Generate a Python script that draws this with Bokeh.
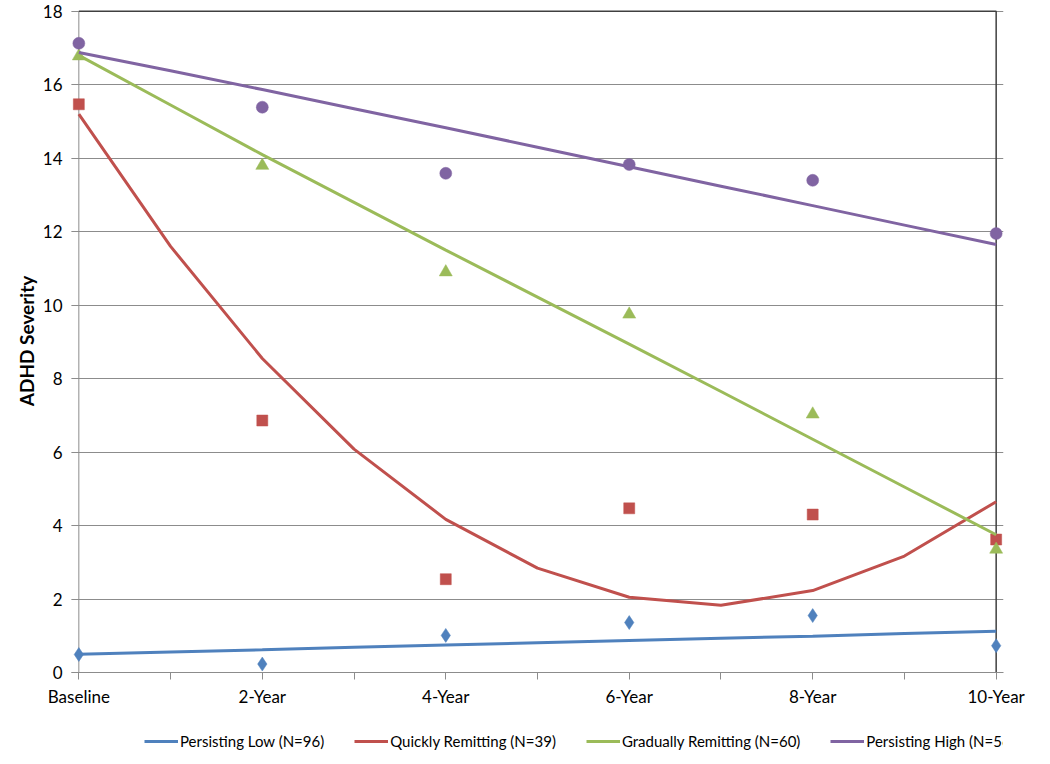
from bokeh.plotting import figure
from bokeh.models import (Range1d, FixedTicker, Legend, LegendItem)
from bokeh.layouts import column
from bokeh.embed import file_html
from bokeh.resources import INLINE

# ---- data ----
wave_labels = ["Baseline", "2-Year", "4-Year", "6-Year", "8-Year", "10-Year"]
wave_years = [0, 2, 4, 6, 8, 10]

series_names = ["Persisting Low (N=96)", "Quickly Remitting (N=39)",
                "Gradually Remitting (N=60)", "Persisting High (N=56)"]

# observed means
persisting_low = [0.49, 0.23, 1.01, 1.36, 1.55, 0.73]
quickly_remitting = [15.47, 6.86, 2.54, 4.47, 4.30, 3.62]
gradually_remitting = [16.78, 13.80, 10.90, 9.75, 7.03, 3.35]
persisting_high = [17.13, 15.39, 13.59, 13.83, 13.40, 11.95]

# fitted trajectories (read at each year)
fit_years = [0, 1, 2, 3, 4, 5, 6, 7, 8, 9, 10]
fit_low = [0.50, 0.56, 0.62, 0.69, 0.75, 0.81, 0.87, 0.93, 0.99, 1.06, 1.12]
fit_quick = [15.20, 11.60, 8.55, 6.08, 4.17, 2.84, 2.05, 1.83, 2.23, 3.17, 4.65]
fit_gradual = [16.80, 15.45, 14.10, 12.80, 11.50, 10.22, 8.94, 7.65, 6.35, 5.05, 3.75]
fit_high = [16.88, 16.38, 15.87, 15.35, 14.83, 14.30, 13.77, 13.24, 12.71, 12.18, 11.65]

y_ticks = [0, 2, 4, 6, 8, 10, 12, 14, 16, 18]

# ---- style ----
FONT = "Lato"
colors = ["#4F81BD", "#C0504D", "#9BBB59", "#8064A2"]
markers = ["diamond", "square", "triangle", "circle"]
msizes = [14, 11, 13, 12]
GRID = "#8c8c8c"

pad = 0.08
p = figure(frame_width=932, frame_height=663, output_backend="svg", toolbar_location=None,
           x_range=Range1d(wave_years[0] - pad, wave_years[-1] + pad),
           y_range=Range1d(y_ticks[0], y_ticks[-1] + 0.05),
           min_border_left=71, min_border_right=31, min_border_top=9,
           min_border_bottom=29)
p.outline_line_color = None
p.border_fill_color = "white"

# axes
p.xaxis.axis_label = None
p.xaxis.ticker = FixedTicker(ticks=fit_years)
p.xaxis.major_label_overrides = {y: (wave_labels[wave_years.index(y)] if y in wave_years else "")
                                 for y in fit_years}
p.xaxis.minor_tick_line_color = None
p.xaxis.major_tick_out = 7
p.xaxis.major_tick_in = 0
p.xaxis.axis_line_color = GRID
p.xaxis.major_tick_line_color = GRID
p.xaxis.major_label_text_font = FONT
p.xaxis.major_label_text_font_size = "17px"
p.xaxis.major_label_text_color = "#000000"
p.xaxis.major_label_standoff = 6

p.yaxis.ticker = FixedTicker(ticks=y_ticks)
p.yaxis.minor_tick_line_color = None
p.yaxis.major_tick_out = 0
p.yaxis.major_tick_in = 7
p.yaxis.axis_line_color = None
p.yaxis.major_tick_line_color = GRID
p.yaxis.major_label_text_font = FONT
p.yaxis.major_label_text_font_size = "17px"
p.yaxis.major_label_text_color = "#000000"
p.yaxis.major_label_standoff = 9
p.yaxis.axis_label = "ADHD Severity"
p.yaxis.axis_label_text_font = FONT
p.yaxis.axis_label_text_font_size = "19px"
p.yaxis.axis_label_text_font_style = "bold"
p.yaxis.axis_label_text_color = "#000000"
p.yaxis.axis_label_standoff = 2

p.xgrid.grid_line_color = None
p.ygrid.ticker = FixedTicker(ticks=y_ticks)
p.ygrid.grid_line_color = GRID
p.ygrid.grid_line_width = 1

# value axis line at Baseline, dark frame lines on top and right
p.line(x=[wave_years[0], wave_years[0]], y=[y_ticks[0], y_ticks[-1]],
       line_color=GRID, line_width=1)
p.line(x=[wave_years[0], wave_years[-1], wave_years[-1]],
       y=[y_ticks[-1], y_ticks[-1], y_ticks[0]],
       line_color="#404040", line_width=1.5)

obs = [persisting_low, quickly_remitting, gradually_remitting, persisting_high]
fits = [fit_low, fit_quick, fit_gradual, fit_high]

for name, col, mk, ms, ob, ft in zip(series_names, colors, markers, msizes, obs, fits):
    p.line(x=fit_years, y=ft, line_color=col, line_width=3)
    p.scatter(x=wave_years, y=ob, marker=mk, size=ms, fill_color=col,
              line_color=col, line_width=0.5)

# ---- legend strip below the chart ----
lg = figure(width=1034, height=47, output_backend="svg", toolbar_location=None,
            x_range=Range1d(0, 1), y_range=Range1d(0, 1),
            min_border_left=0, min_border_right=0, min_border_top=0, min_border_bottom=0)
lg.axis.visible = False
lg.grid.grid_line_color = None
lg.outline_line_color = None
lg.border_fill_color = "white"

items = []
for name, col, ft in zip(series_names, colors, fits):
    # legend key lines; their data lie outside the strip's visible range
    r = lg.line(x=fit_years, y=ft, line_color=col, line_width=3)
    items.append(LegendItem(label=name, renderers=[r]))
lg.y_range = Range1d(-100, -99)

legend = Legend(items=items, orientation="horizontal", location=(73, 6),
                label_text_font=FONT, label_text_font_size="15px",
                label_text_color="#000000", glyph_width=34, glyph_height=16,
                label_height=16, label_standoff=2, spacing=30, padding=2, margin=0,
                border_line_color=None, background_fill_alpha=0)
lg.add_layout(legend)

open("out.html", "w").write(file_html(column(p, lg), INLINE))
